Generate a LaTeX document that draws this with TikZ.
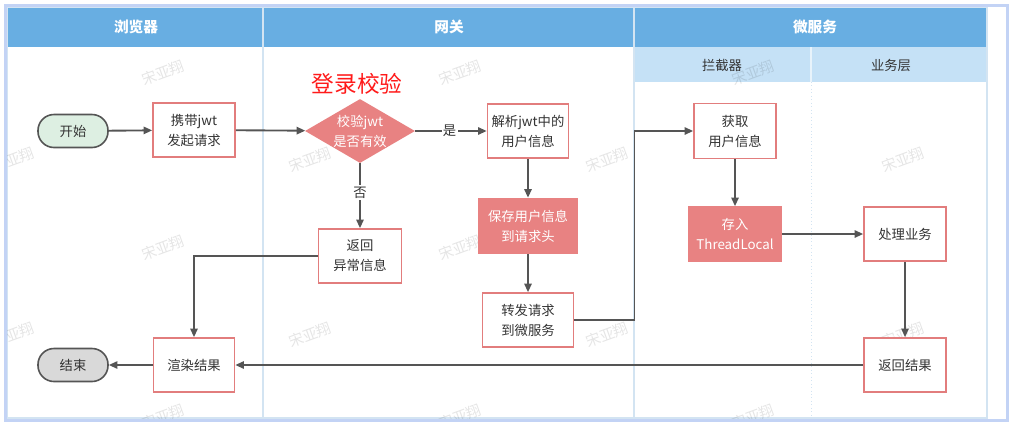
\documentclass[tikz,border=0pt]{standalone}
\usepackage{fontspec}
\setmainfont{Noto Sans CJK SC}
\usetikzlibrary{arrows.meta,shapes.geometric}
\definecolor{hdr}{HTML}{68AEE2}
\definecolor{subhdr}{HTML}{C5E1F6}
\definecolor{lane}{HTML}{D3E4F2}
\definecolor{frm}{HTML}{C3D3F5}
\definecolor{pinkb}{HTML}{E27D7D}
\definecolor{salmon}{HTML}{E88282}
\definecolor{dark}{HTML}{555555}
\definecolor{txt}{HTML}{333333}
\definecolor{startf}{HTML}{DDEFE2}
\definecolor{endf}{HTML}{D9D9D9}
\definecolor{titlered}{HTML}{FF1A1A}
\begin{document}
\begin{tikzpicture}[x=0.75pt,y=-0.75pt,
  base/.style={font=\fontsize{10}{15}\selectfont, align=center, text=txt},
  stepbox/.style={base, draw=pinkb, fill=white, line width=1.2pt, inner sep=2pt, minimum width=61.5pt, minimum height=40.5pt},
  fillbox/.style={stepbox, fill=salmon, draw=salmon, text=white},
  term/.style={base, draw=dark, line width=1.2pt, rounded corners=12pt, minimum width=52.5pt, minimum height=24.75pt, inner sep=1pt},
  arr/.style={draw=dark, line width=1.4pt, -{Triangle[length=6.5pt,width=5.5pt]}},
  lbl/.style={base, fill=white, inner sep=1pt},
  hdtext/.style={font=\fontsize{11}{12}\selectfont\bfseries, text=white},
  subtext/.style={font=\fontsize{10}{12}\selectfont, text=txt},
  wm/.style={font=\fontsize{11}{12}\selectfont, text=black, text opacity=0.10, rotate=20}
]
\useasboundingbox (0,0) rectangle (1009,422);
\fill[white] (0,0) rectangle (1009,422);
% lanes
\fill[hdr] (7,7) rectangle (987,47);
\fill[subhdr] (634,47) rectangle (987,82);
\draw[lane, line width=0.8pt] (7,7) rectangle (987,418);
\draw[lane, line width=0.8pt] (263,7) -- (263,418);
\draw[lane, line width=0.8pt] (634,7) -- (634,418);
\draw[white!60!subhdr, line width=0.8pt] (811,47) -- (811,82);
\draw[lane, line width=0.6pt, dotted] (811,82) -- (811,418);
% watermarks (under the flow)
\begin{scope}
\clip (7,7) rectangle (1007,419);
\foreach \x/\y in {163/73,460/73,753/73,13/160,310/160,607/160,903/160,163/248,460/248,753/248,13/335,310/335,607/335,903/335,163/417,460/417,753/417}
  \node[wm] at (\x,\y) {宋亚翔};
\end{scope}
\draw[frm, line width=2.25pt] (5,5) rectangle (1007.5,420.5);
\node[hdtext] (h1) at (136,27) {浏览器};
\node[hdtext] (h2) at (449,27) {网关};
\node[hdtext] (h3) at (815,27) {微服务};
\node[subtext] (s1) at (722,65) {拦截器};
\node[subtext] (s2) at (891,65) {业务层};
% title
\node[font=\fontsize{17}{20}\selectfont, text=titlered] (title) at (357,84) {登录校验};
% nodes
\node[term, fill=startf] (start) at (73,131) {开始};
\node[stepbox] (b1) at (194,130) {携带jwt\\发起请求};
\node[diamond, fill=salmon, inner sep=0pt, minimum width=82.5pt, minimum height=48pt] (d) at (360,131) {};
\node[base, text=white] (dtext) at (d) {校验jwt\\是否有效};
\node[stepbox, minimum width=60.75pt] (b2) at (528,131) {解析jwt中的\\用户信息};
\node[stepbox, minimum width=62.25pt] (b3) at (360,256) {返回\\异常信息};
\node[fillbox, minimum width=74.25pt, minimum height=41.25pt] (b4) at (528,226) {保存用户信息\\到请求头};
\node[stepbox, minimum width=68.25pt] (b5) at (528,320) {转发请求\\到微服务};
\node[stepbox, minimum height=41.25pt] (b6) at (735,131) {获取\\用户信息};
\node[fillbox, minimum width=69.75pt] (b7) at (735,234) {存入\\ThreadLocal};
\node[stepbox] (b8) at (905,234) {处理业务};
\node[stepbox] (b9) at (905,365) {返回结果};
\node[stepbox, minimum width=60.75pt] (b10) at (194,365) {渲染结果};
\node[term, fill=endf] (end) at (73,365) {结束};
\coordinate (c1) at (634.5,0);
% connectors
\draw[arr] (start) -- (b1);
\draw[arr] (b1) -- (d);
\draw[arr] (d.east) -- node[lbl, pos=0.48] {是} (b2.west);
\draw[arr] (d.south) -- node[lbl, pos=0.45] {否} (b3.north);
\draw[arr] (b2) -- (b4);
\draw[arr] (b4) -- (b5);
\draw[arr] (b5.east) -- (b5.east -| c1) -- (b6.west -| c1) -- (b6.west);
\draw[arr] (b6) -- (b7);
\draw[arr] (b7) -- (b8);
\draw[arr] (b8) -- (b9);
\draw[arr] (b9) -- (b10);
\draw[arr] (b3.west) -| (b10.north);
\draw[arr] (b10) -- (end);
\end{tikzpicture}
\end{document}
